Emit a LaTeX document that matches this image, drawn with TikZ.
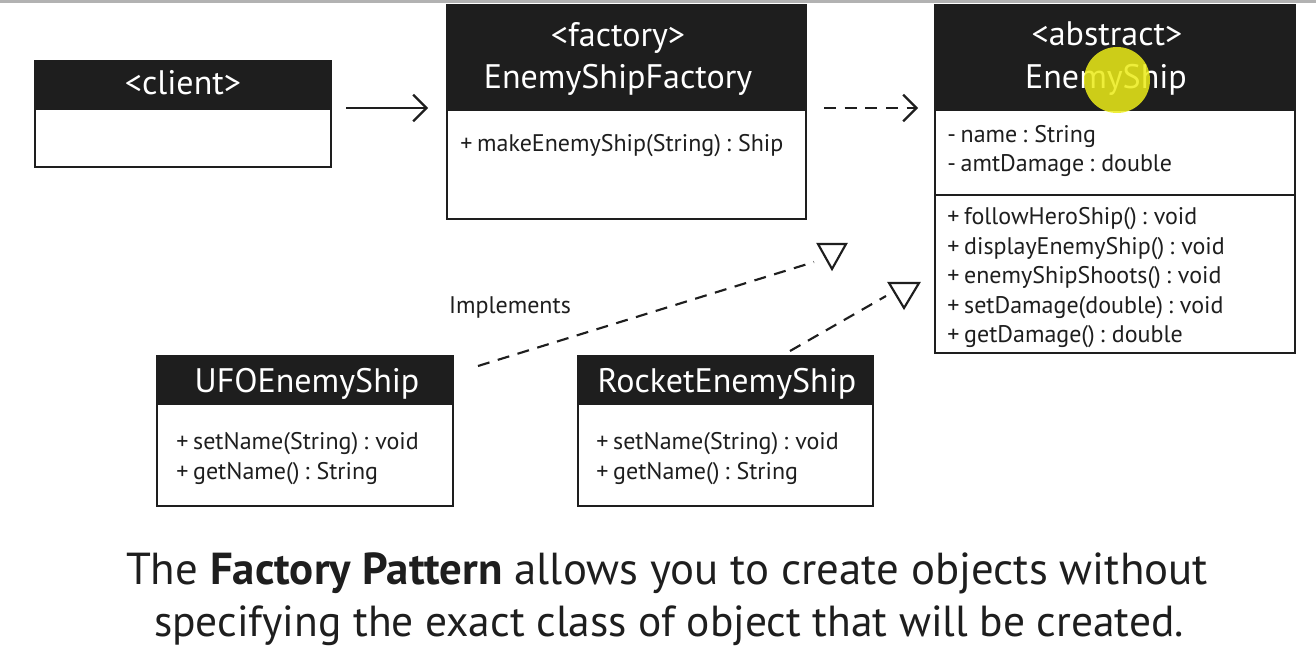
\documentclass[tikz,border=0pt]{standalone}
\usepackage{fontspec}
\setmainfont{PT Sans}
\usetikzlibrary{arrows.meta}
\definecolor{ink}{HTML}{1E1E1E}
\definecolor{cursor}{RGB}{236,236,24}
\newcommand\mytightspace{\spaceskip=0.2em plus 0.05em\relax}
\begin{document}
\begin{tikzpicture}[x=0.75pt,y=-0.75pt,
  headfill/.style={fill=ink,draw=ink,line width=1.5pt},
  boxline/.style={draw=ink,line width=2pt},
  htext/.style={text=white,inner sep=0pt,anchor=base,font=\fontsize{25.5pt}{30pt}\selectfont},
  mtext/.style={text=ink,inner sep=0pt,anchor=base west,font=\fontsize{18pt}{22pt}\selectfont\mytightspace},
  conn/.style={draw=ink,line width=1.6pt},
  dashconn/.style={conn,dash pattern=on 9pt off 6.5pt},
  chev/.style={-{Straight Barb[length=10pt,width=20pt,line width=1.6pt]}},
  tri/.style={draw=ink,line width=1.6pt,line join=miter,fill=white},
  captext/.style={text=ink,inner sep=0pt,anchor=base}
]
\useasboundingbox (0,0) rectangle (1316,652);
\fill[white] (0,0) rectangle (1316,652);
\fill[black!30] (0,0) rectangle (1316,3);

% client
\path[headfill] (35,61) rectangle (331,109);
\path[boxline] (35,109) rectangle (331,167);
\node[htext] (clientT) at (183,95) {<client>};

% factory
\path[headfill] (447,5) rectangle (806,110);
\path[boxline] (447,110) rectangle (806,219);
\node[htext] (factS) at (618,47) {<factory>};
\node[htext] (factT) at (618,89) {EnemyShipFactory};
\node[mtext] (factM) at (460,152) {+ makeEnemyShip(String) : Ship};

% EnemyShip
\path[headfill] (935,5) rectangle (1295,110);
\path[boxline] (935,110) rectangle (1295,195);
\path[boxline] (935,195) rectangle (1295,353);
\node[htext] (shipS) at (1107,46) {<abstract>};
\node[htext] (shipT) at (1106,89) {EnemyShip};
\node[mtext] (a1) at (947,143) {- name : String};
\node[mtext] (a2) at (947,172) {- amtDamage : double};
\node[mtext] (m1) at (947,224) {+ followHeroShip() : void};
\node[mtext] (m2) at (947,254) {+ displayEnemyShip() : void};
\node[mtext] (m3) at (947,283) {+ enemyShipShoots() : void};
\node[mtext] (m4) at (947,313) {+ setDamage(double) : void};
\node[mtext] (m5) at (947,342) {+ getDamage() : double};

% UFO
\path[headfill] (157,356) rectangle (453,404);
\path[boxline] (157,404) rectangle (453,506);
\node[htext] (ufoT) at (307,392) {UFOEnemyShip};
\node[mtext] (u1) at (176,449) {+ setName(String) : void};
\node[mtext] (u2) at (176,479) {+ getName() : String};

% Rocket
\path[headfill] (578,356) rectangle (873,404);
\path[boxline] (578,404) rectangle (873,506);
\node[htext] (rocT) at (727,392) {RocketEnemyShip};
\node[mtext] (r1) at (596,449) {+ setName(String) : void};
\node[mtext] (r2) at (596,479) {+ getName() : String};

% connectors
\coordinate (c1) at (346,108);
\coordinate (c2) at (428,108);
\draw[conn,chev] (c1) -- (c2);
\coordinate (d1) at (824,108);
\coordinate (d2) at (918,108);
\draw[dashconn,chev] (d1) -- (d2);

\coordinate (i1) at (478,366);
\coordinate (i2) at (814,262);
\draw[dashconn] (i1) -- (i2);
\draw[tri] (818,244) -- (846,244) -- (832,269) -- cycle;

\coordinate (j1) at (790,351);
\coordinate (j2) at (886,296);
\draw[dashconn] (j1) -- (j2);
\draw[tri] (889,283) -- (919,283) -- (904,308) -- cycle;

\node[text=ink,inner sep=0pt,anchor=base,font=\fontsize{18pt}{22pt}\selectfont] (impl) at (510,313) {Implements};

% caption
\node[captext,font=\fontsize{33.6pt}{40pt}\selectfont] (cap1) at (667,584) {The \textbf{Factory Pattern} allows you to create objects without};
\node[captext,font=\fontsize{32.6pt}{40pt}\selectfont] (cap2) at (669,636) {specifying the exact class of object that will be created.};

% cursor highlight
\fill[cursor,opacity=0.85] (1117,80) circle (33);
\end{tikzpicture}
\end{document}
